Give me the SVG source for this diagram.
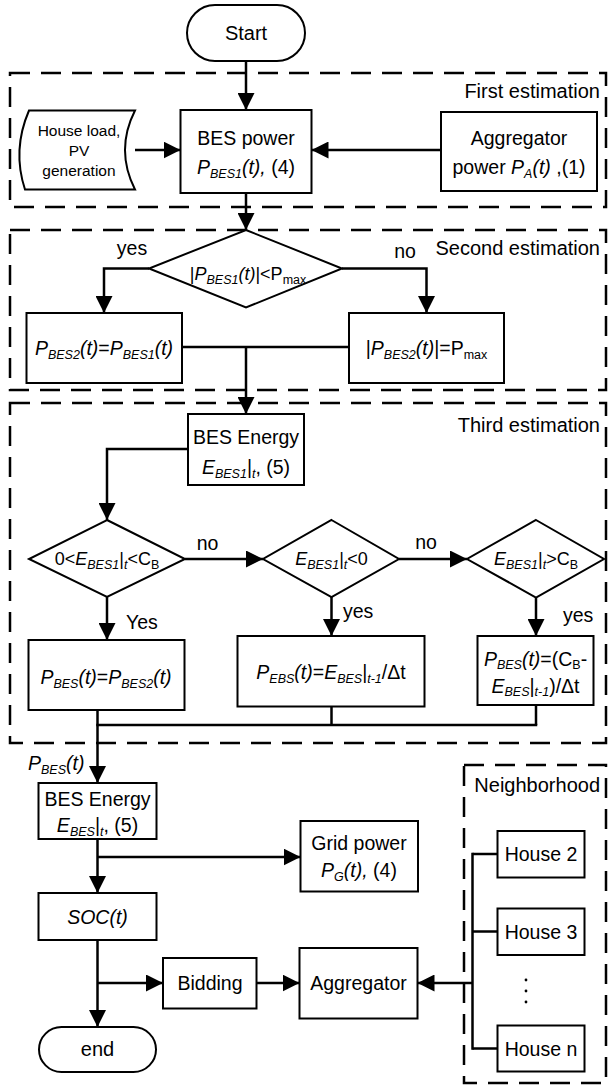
<svg xmlns="http://www.w3.org/2000/svg" width="608" height="1086" viewBox="0 0 608 1086">
<defs>
<marker id="ah" markerUnits="userSpaceOnUse" markerWidth="17" markerHeight="17" refX="17" refY="8.5" orient="auto"><path d="M0,0 L17,8.5 L0,17 Z" fill="#000"/></marker>
<style>
.t{font-family:"Liberation Sans",Arial,sans-serif;font-size:19.5px;fill:#000}
.m{text-anchor:middle}
.e{text-anchor:end}
.h{font-size:20px}
.d{font-size:18px}
.sm{font-size:15.5px}
.i{font-style:italic}
.s{font-size:12.5px}
.box{fill:#fff;stroke:#000;stroke-width:2}
.dash{fill:none;stroke:#000;stroke-width:2.5;stroke-dasharray:20 11}
.c{fill:none;stroke:#000;stroke-width:2.5}
.a{marker-end:url(#ah)}
</style>
</defs>
<rect width="608" height="1086" fill="#fff"/>

<g id="sections">
<rect class="dash" x="10" y="73" width="596" height="134"/>
<text class="t h e" x="600" y="98">First estimation</text>
<rect class="dash" x="10" y="230" width="596" height="160"/>
<text class="t h e" x="600" y="255">Second estimation</text>
<rect class="dash" x="10" y="403" width="596" height="340"/>
<text class="t h e" x="600" y="432">Third estimation</text>
<rect class="dash" x="464" y="765" width="142" height="318"/>
<text class="t h e" x="600" y="792">Neighborhood</text>
</g>

<g id="connectors">
<line class="c a" x1="246" y1="61" x2="246" y2="110"/>
<line class="c a" x1="135" y1="150" x2="180.5" y2="150"/>
<line class="c a" x1="441" y1="150" x2="311.5" y2="150"/>
<line class="c a" x1="246" y1="193" x2="246" y2="230"/>
<polyline class="c a" points="149,268.5 104,268.5 104,313"/>
<polyline class="c a" points="342,268.5 426.5,268.5 426.5,313"/>
<line class="c" x1="182" y1="347" x2="349" y2="347"/>
<line class="c a" x1="246" y1="347" x2="246" y2="414"/>
<polyline class="c a" points="188,449 107,449 107,520"/>
<line class="c a" x1="185" y1="559" x2="263" y2="559"/>
<line class="c a" x1="399" y1="559" x2="467" y2="559"/>
<line class="c a" x1="107" y1="597" x2="107" y2="640"/>
<line class="c a" x1="331.5" y1="597" x2="331.5" y2="636"/>
<line class="c a" x1="536" y1="597.5" x2="536" y2="636"/>
<line class="c" x1="97.5" y1="710" x2="97.5" y2="725"/>
<line class="c" x1="331.5" y1="706.5" x2="331.5" y2="725"/>
<line class="c" x1="536" y1="705" x2="536" y2="725"/>
<line class="c" x1="96.25" y1="725" x2="537.25" y2="725"/>
<line class="c a" x1="97.5" y1="725" x2="97.5" y2="783"/>
<line class="c a" x1="97.5" y1="839" x2="97.5" y2="893"/>
<line class="c a" x1="97.5" y1="857" x2="300.5" y2="857"/>
<line class="c a" x1="97.5" y1="940" x2="97.5" y2="1027"/>
<line class="c a" x1="97.5" y1="983" x2="163" y2="983"/>
<line class="c a" x1="256.5" y1="983" x2="299.5" y2="983"/>
<line class="c a" x1="472.5" y1="983" x2="417.5" y2="983"/>
<line class="c" x1="472.5" y1="852.75" x2="472.5" y2="1049.75"/>
<line class="c" x1="472.5" y1="854" x2="497.5" y2="854"/>
<line class="c" x1="472.5" y1="931.5" x2="497.5" y2="931.5"/>
<line class="c" x1="472.5" y1="1048.5" x2="497.5" y2="1048.5"/>
</g>

<g id="start">
<rect class="box" x="187" y="5" width="118" height="56" rx="28"/>
<text class="t h m" x="246" y="40">Start</text>
</g>

<g id="house-load">
<path class="box" d="M29,110.5 L135,110.5 Q115,150 135,189.5 L25,189.5 Q12,150 29,110.5 Z"/>
<text class="t sm m" x="79" y="135.5">House load,</text>
<text class="t sm m" x="79" y="155.5">PV</text>
<text class="t sm m" x="79" y="175.5">generation</text>
</g>

<g id="bes-power">
<rect class="box" x="180.5" y="110" width="131" height="83"/>
<text class="t m" x="246" y="145">BES power</text>
<text class="t m" x="246" y="174"><tspan class="i">P</tspan><tspan class="i s" dy="4">BES1</tspan><tspan class="i" dy="-4">(t),</tspan> (4)</text>
</g>

<g id="aggregator-power">
<rect class="box" x="441" y="112" width="156" height="79"/>
<text class="t m" x="519" y="145">Aggregator</text>
<text class="t m" x="519" y="174">power <tspan class="i">P</tspan><tspan class="i s" dy="4">A</tspan><tspan class="i" dy="-4">(t)</tspan> ,(1)</text>
</g>

<g id="decision-pmax">
<polygon class="box" points="246,230 342,268.5 246,307.5 149,268.5"/>
<text class="t d m" x="248" y="280">|<tspan class="i">P</tspan><tspan class="i s" dy="4">BES1</tspan><tspan class="i" dy="-4">(t)</tspan>|&lt;P<tspan class="s" dy="4">max</tspan></text>
<text class="t m" x="132" y="255">yes</text>
<text class="t m" x="405" y="258">no</text>
</g>

<g id="pbes2-equal">
<rect class="box" x="26.5" y="313" width="155.5" height="70"/>
<text class="t m" x="104" y="355"><tspan class="i">P</tspan><tspan class="i s" dy="4">BES2</tspan><tspan class="i" dy="-4">(t)</tspan>=<tspan class="i">P</tspan><tspan class="i s" dy="4">BES1</tspan><tspan class="i" dy="-4">(t)</tspan></text>
</g>

<g id="pbes2-max">
<rect class="box" x="349" y="313" width="155" height="70"/>
<text class="t m" x="426.5" y="355">|<tspan class="i">P</tspan><tspan class="i s" dy="4">BES2</tspan><tspan class="i" dy="-4">(t)</tspan>|=P<tspan class="s" dy="4">max</tspan></text>
</g>

<g id="bes-energy-1">
<rect class="box" x="188" y="414" width="116" height="71"/>
<text class="t m" x="246" y="444">BES Energy</text>
<text class="t m" x="246" y="474"><tspan class="i">E</tspan><tspan class="i s" dy="4">BES1</tspan><tspan dy="-4">|</tspan><tspan class="i s" dy="4">t</tspan><tspan dy="-4">, (5)</tspan></text>
</g>

<g id="decision-range">
<polygon class="box" points="107,520 185,559 107,597 29,559"/>
<text class="t d m" x="107" y="565">0&lt;<tspan class="i">E</tspan><tspan class="i s" dy="4">BES1</tspan><tspan dy="-4">|</tspan><tspan class="i s" dy="4">t</tspan><tspan dy="-4">&lt;C</tspan><tspan class="s" dy="4">B</tspan></text>
<text class="t m" x="207.5" y="550">no</text>
<text class="t" x="126" y="629">Yes</text>
</g>

<g id="decision-negative">
<polygon class="box" points="331.5,520 399,559 331.5,597 263,559"/>
<text class="t d m" x="331.5" y="565"><tspan class="i">E</tspan><tspan class="i s" dy="4">BES1</tspan><tspan dy="-4">|</tspan><tspan class="i s" dy="4">t</tspan><tspan dy="-4">&lt;0</tspan></text>
<text class="t m" x="426" y="549">no</text>
<text class="t" x="343" y="618">yes</text>
</g>

<g id="decision-over">
<polygon class="box" points="536,520 604,559 536,597.5 467,559"/>
<text class="t d m" x="536" y="565"><tspan class="i">E</tspan><tspan class="i s" dy="4">BES1</tspan><tspan dy="-4">|</tspan><tspan class="i s" dy="4">t</tspan><tspan dy="-4">&gt;C</tspan><tspan class="s" dy="4">B</tspan></text>
<text class="t" x="563" y="622">yes</text>
</g>

<g id="pbes-1">
<rect class="box" x="28.5" y="640" width="156" height="70"/>
<text class="t m" x="106" y="684"><tspan class="i">P</tspan><tspan class="i s" dy="4">BES</tspan><tspan class="i" dy="-4">(t)</tspan>=<tspan class="i">P</tspan><tspan class="i s" dy="4">BES2</tspan><tspan class="i" dy="-4">(t)</tspan></text>
</g>

<g id="pbes-2">
<rect class="box" x="237.5" y="636" width="187" height="70.5"/>
<text class="t m" x="331" y="679"><tspan class="i">P</tspan><tspan class="i s" dy="4">EBS</tspan><tspan class="i" dy="-4">(t)</tspan>=<tspan class="i">E</tspan><tspan class="i s" dy="4">BES</tspan><tspan dy="-4">|</tspan><tspan class="i s" dy="4">t-1</tspan><tspan dy="-4">/Δt</tspan></text>
</g>

<g id="pbes-3">
<rect class="box" x="477.5" y="636" width="116" height="69"/>
<text class="t m" x="535.5" y="666"><tspan class="i">P</tspan><tspan class="i s" dy="3">BES</tspan><tspan class="i" dy="-3">(t)</tspan>=(C<tspan class="s" dy="3">B</tspan><tspan dy="-3">-</tspan></text>
<text class="t m" x="535.5" y="693"><tspan class="i">E</tspan><tspan class="i s" dy="3">BES</tspan><tspan dy="-3">|</tspan><tspan class="i s" dy="3">t-1</tspan><tspan dy="-3">)/Δt</tspan></text>
</g>

<g id="pbes-label">
<text class="t" x="28" y="770"><tspan class="i">P</tspan><tspan class="i s" dy="4">BES</tspan><tspan class="i" dy="-4">(t)</tspan></text>
</g>

<g id="bes-energy-2">
<rect class="box" x="38.5" y="783" width="118" height="56"/>
<text class="t m" x="97.5" y="806">BES Energy</text>
<text class="t m" x="97.5" y="832"><tspan class="i">E</tspan><tspan class="i s" dy="4">BES</tspan><tspan dy="-4">|</tspan><tspan class="i s" dy="4">t</tspan><tspan dy="-4">, (5)</tspan></text>
</g>

<g id="grid-power">
<rect class="box" x="300.5" y="821" width="117.5" height="70.5"/>
<text class="t m" x="359" y="850">Grid power</text>
<text class="t m" x="359" y="877"><tspan class="i">P</tspan><tspan class="i s" dy="4">G</tspan><tspan class="i" dy="-4">(t),</tspan> (4)</text>
</g>

<g id="soc">
<rect class="box" x="38.5" y="893" width="118" height="47"/>
<text class="t m i" x="97.5" y="924">SOC(t)</text>
</g>

<g id="bidding">
<rect class="box" x="163" y="958" width="93.5" height="50.5"/>
<text class="t m" x="210" y="990">Bidding</text>
</g>

<g id="aggregator">
<rect class="box" x="299.5" y="948" width="118" height="70.5"/>
<text class="t m" x="358.5" y="990">Aggregator</text>
</g>

<g id="house-2">
<rect class="box" x="497.5" y="831" width="87" height="46.5"/>
<text class="t m" x="541" y="861">House 2</text>
</g>

<g id="house-3">
<rect class="box" x="497.5" y="908.5" width="87" height="46.5"/>
<text class="t m" x="541" y="938.5">House 3</text>
</g>

<g id="house-dots">
<circle cx="526" cy="980" r="1.4" fill="#000"/>
<circle cx="526" cy="991" r="1.4" fill="#000"/>
<circle cx="526" cy="1002" r="1.4" fill="#000"/>
</g>

<g id="house-n">
<rect class="box" x="497.5" y="1025.5" width="87" height="46"/>
<text class="t m" x="541" y="1055.5">House n</text>
</g>

<g id="end">
<rect class="box" x="39" y="1027" width="117" height="45" rx="22.5"/>
<text class="t h m" x="97.5" y="1056">end</text>
</g>
</svg>
